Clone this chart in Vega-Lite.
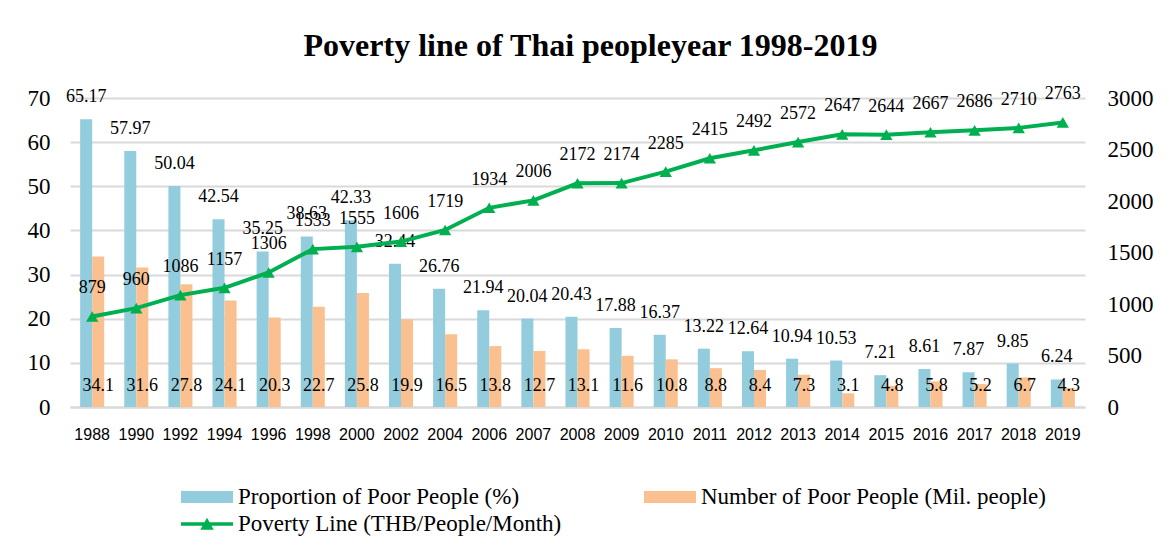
{
  "$schema": "https://vega.github.io/schema/vega-lite/v6.json",
  "autosize": {"type": "none"},
  "width": 1015,
  "height": 309,
  "padding": {"left": 70, "top": 98, "right": 86, "bottom": 144},
  "background": "white",
  "title": {
    "text": "Poverty line of Thai peopleyear 1998-2019",
    "font": "Liberation Serif",
    "fontSize": 32,
    "fontWeight": "bold",
    "color": "#000000",
    "anchor": "middle",
    "dx": 13,
    "offset": 22
  },
  "config": {
    "view": {"stroke": null},
    "font": "Liberation Serif"
  },
  "data": {
    "values": [
      {"year": "1988", "prop": 65.17, "num": 34.1, "line": 879},
      {"year": "1990", "prop": 57.97, "num": 31.6, "line": 960},
      {"year": "1992", "prop": 50.04, "num": 27.8, "line": 1086},
      {"year": "1994", "prop": 42.54, "num": 24.1, "line": 1157},
      {"year": "1996", "prop": 35.25, "num": 20.3, "line": 1306},
      {"year": "1998", "prop": 38.63, "num": 22.7, "line": 1533},
      {"year": "2000", "prop": 42.33, "num": 25.8, "line": 1555},
      {"year": "2002", "prop": 32.44, "num": 19.9, "line": 1606},
      {"year": "2004", "prop": 26.76, "num": 16.5, "line": 1719},
      {"year": "2006", "prop": 21.94, "num": 13.8, "line": 1934},
      {"year": "2007", "prop": 20.04, "num": 12.7, "line": 2006},
      {"year": "2008", "prop": 20.43, "num": 13.1, "line": 2172},
      {"year": "2009", "prop": 17.88, "num": 11.6, "line": 2174},
      {"year": "2010", "prop": 16.37, "num": 10.8, "line": 2285},
      {"year": "2011", "prop": 13.22, "num": 8.8, "line": 2415},
      {"year": "2012", "prop": 12.64, "num": 8.4, "line": 2492},
      {"year": "2013", "prop": 10.94, "num": 7.3, "line": 2572},
      {"year": "2014", "prop": 10.53, "num": 3.1, "line": 2647},
      {"year": "2015", "prop": 7.21, "num": 4.8, "line": 2644},
      {"year": "2016", "prop": 8.61, "num": 5.8, "line": 2667},
      {"year": "2017", "prop": 7.87, "num": 5.2, "line": 2686},
      {"year": "2018", "prop": 9.85, "num": 6.7, "line": 2710},
      {"year": "2019", "prop": 6.24, "num": 4.3, "line": 2763}
    ]
  },
  "encoding": {
    "x": {
      "field": "year",
      "type": "ordinal",
      "scale": {"paddingInner": 0.455, "paddingOuter": 0.23},
      "axis": {
        "title": null,
        "labelAngle": 0,
        "labelFont": "Liberation Sans",
        "labelFontSize": 16,
        "labelColor": "#000000",
        "labelPadding": 19,
        "ticks": false,
        "domainColor": "#d9d9d9",
        "domainWidth": 2
      }
    }
  },
  "layer": [
    {
      "transform": [{"fold": ["prop", "num"], "as": ["series", "value"]}],
      "layer": [
        {
          "mark": {"type": "bar"},
          "encoding": {
            "xOffset": {"field": "series", "type": "nominal", "scale": {"domain": ["prop", "num"]}},
            "y": {
              "field": "value",
              "type": "quantitative",
              "scale": {"domain": [0, 70]},
              "axis": {
                "title": null,
                "values": [0, 10, 20, 30, 40, 50, 60, 70],
                "labelFont": "Liberation Serif",
                "labelFontSize": 23,
                "labelColor": "#000000",
                "labelPadding": 20,
                "ticks": false,
                "domain": false,
                "gridColor": "#d9d9d9",
                "gridWidth": 2
              }
            },
            "color": {
              "field": "series",
              "type": "nominal",
              "scale": {"domain": ["prop", "num", "line"], "range": ["#93CDDD", "#FAC090", "#00B050"]},
              "legend": {
                "title": null,
                "orient": "none",
                "direction": "horizontal",
                "legendX": 124,
                "legendY": 386,
                "columns": 2,
                "columnPadding": 82,
                "rowPadding": 2,
                "labelFont": "Liberation Serif",
                "labelFontSize": 23,
                "labelColor": "#000000",
                "labelLimit": 500,
                "labelOffset": 18,
                "symbolSize": 676,
                "symbolStrokeWidth": 0,
                "labelExpr": "datum.value === 'prop' ? 'Proportion of Poor People (%)' : datum.value === 'num' ? 'Number of Poor People (Mil. people)' : 'Poverty Line (THB/People/Month)'",
                "encode": {
                  "symbols": {
                    "update": {
                      "shape": {"signal": "datum.value === 'line' ? 'M-2,-0.14H2V0.14H-2Z M-0.52,0.44L0,-0.48L0.52,0.44Z' : 'M-2,-0.46H2V0.46H-2Z'"},
                      "strokeWidth": {"value": 0}
                    }
                  }
                }
              }
            }
          }
        },
        {
          "transform": [{"filter": "datum.series === 'prop'"}],
          "mark": {"type": "text", "baseline": "middle", "dy": -22, "fontSize": 18, "font": "Liberation Serif", "color": "#000000"},
          "encoding": {
            "xOffset": {"field": "series", "type": "nominal", "scale": {"domain": ["prop", "num"]}},
            "y": {"field": "value", "type": "quantitative"},
            "text": {"field": "value", "type": "quantitative", "format": ".2f"}
          }
        },
        {
          "transform": [{"filter": "datum.series === 'num'"}],
          "mark": {"type": "text", "baseline": "middle", "dy": -21, "fontSize": 18, "font": "Liberation Serif", "color": "#000000"},
          "encoding": {
            "xOffset": {"field": "series", "type": "nominal", "scale": {"domain": ["prop", "num"]}},
            "y": {"datum": 0, "type": "quantitative"},
            "text": {"field": "value", "type": "quantitative", "format": ".1f"}
          }
        }
      ]
    },
    {
      "layer": [
        {
          "mark": {"type": "line", "strokeWidth": 4, "point": {"shape": "triangle-up", "size": 150, "filled": true}},
          "encoding": {
            "y": {
              "field": "line",
              "type": "quantitative",
              "scale": {"domain": [0, 3000]},
              "axis": {
                "orient": "right",
                "title": null,
                "values": [0, 500, 1000, 1500, 2000, 2500, 3000],
                "format": "d",
                "labelFont": "Liberation Serif",
                "labelFontSize": 23,
                "labelColor": "#000000",
                "labelPadding": 22,
                "ticks": false,
                "domain": false,
                "grid": false
              }
            },
            "color": {"datum": "line"}
          }
        },
        {
          "mark": {"type": "text", "baseline": "middle", "dy": -28, "fontSize": 18, "font": "Liberation Serif", "color": "#000000"},
          "encoding": {
            "y": {"field": "line", "type": "quantitative", "scale": {"domain": [0, 3000]}},
            "text": {"field": "line", "type": "quantitative", "format": "d"}
          }
        }
      ]
    }
  ],
  "resolve": {"scale": {"y": "independent"}}
}
